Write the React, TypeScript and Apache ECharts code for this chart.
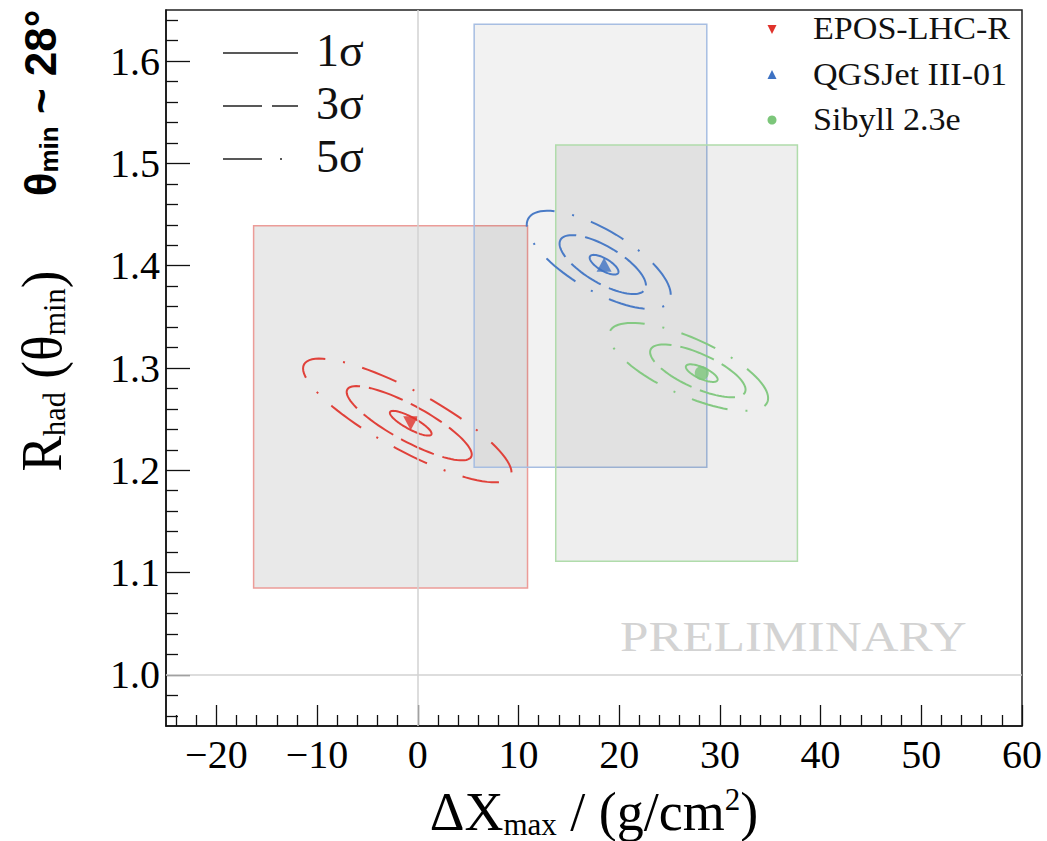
import React, { useEffect, useRef } from "react";
import * as echarts from "echarts";

// ---- data ----
const models = ["EPOS-LHC-R", "QGSJet III-01", "Sibyll 2.3e"];
const markerSymbols = ["triangle", "triangle", "circle"];
const markerRotations = [180, 0, 0];
const markerColors = ["#e0322b", "#3d72c3", "#7cc67a"];
const contourColors = ["#e0413a", "#4a7bc6", "#84c982"];
const boxBorderColors = ["#ec9c98", "#a7bee2", "#b0dcab"];
const boxFillColors = ["rgba(0,0,0,0.085)", "rgba(0,0,0,0.05)", "rgba(0,0,0,0.068)"];

// best-fit points
const centerX = [-0.7, 18.5, 28.2];
const centerY = [1.246, 1.401, 1.295];

// contour centres for the 1σ, 3σ and 5σ levels (contours are slightly asymmetric)
const contourCenterX = [
  [-0.7, -0.85, -1.04],
  [18.5, 18.37, 17.97],
  [28.2, 27.81, 26.89],
];
const contourCenterY = [
  [1.246, 1.246, 1.2487],
  [1.401, 1.4011, 1.4057],
  [1.295, 1.2972, 1.3011],
];
// 1-sigma widths and correlation of the fit contours
const sigmaX = [2.07, 1.43, 1.58];
const sigmaY = [0.0121, 0.0096, 0.0086];
const rho = [-0.84, -0.71, -0.71];

// allowed ranges (boxes)
const boxXMin = [-16.3, 5.6, 13.7];
const boxXMax = [10.9, 28.7, 37.7];
const boxYMin = [1.085, 1.203, 1.111];
const boxYMax = [1.439, 1.636, 1.518];

const sigmaLevels = [1, 3, 5];
const sigmaLabels = ["1\u03c3", "3\u03c3", "5\u03c3"];
const sigmaDashes: number[][] = [[], [36, 9], [37, 18, 2, 18]];
const legendDashes: number[][] = [[], [39, 10], [39, 18, 2, 40]];

const xMajorTicks = [-20, -10, 0, 10, 20, 30, 40, 50, 60];
const yMajorTicks = [1.0, 1.1, 1.2, 1.3, 1.4, 1.5, 1.6];
const xMin = -25, xMax = 60, yMin = 0.95, yMax = 1.65;

const xMinorTicks: number[] = [];
for (let v = -24; v <= 60; v += 2) if (v % 10 !== 0) xMinorTicks.push(v);
const yMinorTicks: number[] = [];
for (let k = 48; k <= 82; k++) if (k % 5 !== 0) yMinorTicks.push(+(k * 0.02).toFixed(2));

const SERIF = "'Liberation Serif', 'Times New Roman', serif";
const SANS = "'Liberation Sans', Arial, sans-serif";

function ellipseRender(params: any, api: any) {
  const cx = api.value(0), cy = api.value(1), sx = api.value(2), sy = api.value(3), r = api.value(4), n = api.value(5);
  const mi = api.value(6), li = api.value(7);
  const pts: number[][] = [];
  const N = 90;
  const s = Math.sqrt(1 - r * r);
  for (let k = 0; k < N; k++) {
    const t = (2 * Math.PI * k) / N;
    const dx = n * sx * Math.cos(t);
    const dy = n * sy * (r * Math.cos(t) + s * Math.sin(t));
    pts.push(api.coord([cx + dx, cy + dy]));
  }
  return {
    type: "polygon",
    shape: { points: pts },
    style: {
      fill: "none",
      stroke: contourColors[mi],
      lineWidth: 2,
      lineDash: sigmaDashes[li].length ? sigmaDashes[li] : null,
    },
  };
}

function boxRender(params: any, api: any) {
  const i = params.dataIndex;
  const p1 = api.coord([api.value(0), api.value(3)]);
  const p2 = api.coord([api.value(1), api.value(2)]);
  return {
    type: "rect",
    shape: { x: p1[0], y: p1[1], width: p2[0] - p1[0], height: p2[1] - p1[1] },
    style: { fill: boxFillColors[i], stroke: boxBorderColors[i], lineWidth: 1.5 },
  };
}

export default function App() {
  const ref = useRef<HTMLDivElement>(null);
  useEffect(() => {
    if (!ref.current) return;
    const chart = echarts.init(ref.current, undefined, { renderer: "svg" });

    const boxData = models.map((_, i) => [boxXMin[i], boxXMax[i], boxYMin[i], boxYMax[i]]);

    const ellipseSeries = models.map((name, i) => ({
      type: "custom",
      name: name + " contours",
      xAxisIndex: 0,
      yAxisIndex: 0,
      renderItem: ellipseRender,
      encode: { x: 0, y: 1 },
      data: sigmaLevels.map((n, li) => [contourCenterX[i][li], contourCenterY[i][li], sigmaX[i], sigmaY[i], rho[i], n, i, li]),
      silent: true,
      z: 3,
    }));

    const scatterSeries = models.map((name, i) => ({
      type: "scatter",
      name,
      xAxisIndex: 0,
      yAxisIndex: 0,
      symbol: markerSymbols[i],
      symbolRotate: markerRotations[i],
      symbolSize: i === 2 ? 14 : [15, 14],
      itemStyle: { color: markerColors[i] },
      data: [[centerX[i], centerY[i]]],
      z: 4,
    }));

    const legendGraphics: any[] = [];
    // sigma legend (top-left)
    sigmaLabels.forEach((lab, li) => {
      const y = [53, 106, 159][li];
      legendGraphics.push({
        type: "line",
        shape: { x1: 223, y1: y, x2: 298, y2: y },
        style: { stroke: "#222", lineWidth: 1.4, lineDash: legendDashes[li].length ? legendDashes[li] : null },
        silent: true,
      });
      legendGraphics.push({
        type: "text",
        x: 316,
        y: y - 3,
        style: { text: lab, fontSize: 46, fontFamily: SERIF, fill: "#111", align: "left", verticalAlign: "middle", textAlign: "left", textVerticalAlign: "middle" },
        silent: true,
      });
    });
    // model legend (top-right)
    const legY = [29, 75, 120];
    models.forEach((name, i) => {
      if (i === 2) {
        legendGraphics.push({ type: "circle", shape: { cx: 772, cy: legY[i], r: 4.5 }, style: { fill: markerColors[i] }, silent: true });
      } else if (i === 0) {
        legendGraphics.push({ type: "polygon", shape: { points: [[767.5, legY[i] - 4], [776.5, legY[i] - 4], [772, legY[i] + 5]] }, style: { fill: markerColors[i] }, silent: true });
      } else {
        legendGraphics.push({ type: "polygon", shape: { points: [[767.5, legY[i] + 4], [776.5, legY[i] + 4], [772, legY[i] - 5]] }, style: { fill: markerColors[i] }, silent: true });
      }
      legendGraphics.push({
        type: "text",
        x: 813,
        y: legY[i],
        scaleX: 1.1,
        style: { text: name, fontSize: 31, fontFamily: SERIF, fill: "#111", align: "left", verticalAlign: "middle", textAlign: "left", textVerticalAlign: "middle" },
        silent: true,
      });
    });

    const option: any = {
      animation: false,
      backgroundColor: "#ffffff",
      grid: { left: 166, right: 25, top: 10, bottom: 115, show: true, borderColor: "#222", borderWidth: 1.5, backgroundColor: "transparent" },
      xAxis: [
        {
          type: "value", min: xMin, max: xMax, position: "bottom",
          splitLine: { show: false },
          axisLine: { show: true, onZero: false, lineStyle: { color: "#111", width: 1.5 } },
          axisTick: { show: true, inside: true, length: 21, customValues: xMajorTicks, lineStyle: { color: "#111", width: 1.3 } },
          axisLabel: {
            customValues: xMajorTicks, fontFamily: SERIF, fontSize: 40, color: "#000", margin: 8,
            formatter: (v: number) => (v < 0 ? "\u2212" + Math.abs(v) : String(v)),
          },
        },
        {
          type: "value", min: xMin, max: xMax, position: "bottom",
          splitLine: { show: false },
          axisLine: { show: false, onZero: false },
          axisTick: { show: true, inside: true, length: 11, customValues: xMinorTicks, lineStyle: { color: "#111", width: 1.3 } },
          axisLabel: { show: false },
        },
      ],
      yAxis: [
        {
          type: "value", min: yMin, max: yMax, position: "left",
          splitLine: { show: false },
          axisLine: { show: true, onZero: false, lineStyle: { color: "#111", width: 1.5 } },
          axisTick: { show: true, inside: true, length: 24, customValues: yMajorTicks, lineStyle: { color: "#111", width: 1.3 } },
          axisLabel: {
            customValues: yMajorTicks, fontFamily: SERIF, fontSize: 40, color: "#000", margin: 6,
            formatter: (v: number) => v.toFixed(1),
          },
        },
        {
          type: "value", min: yMin, max: yMax, position: "left",
          splitLine: { show: false },
          axisLine: { show: false, onZero: false },
          axisTick: { show: true, inside: true, length: 12, customValues: yMinorTicks, lineStyle: { color: "#111", width: 1.3 } },
          axisLabel: { show: false },
        },
      ],
      series: [
        {
          type: "custom",
          name: "ranges",
          xAxisIndex: 0,
          yAxisIndex: 0,
          renderItem: boxRender,
          encode: { x: [0, 1], y: [2, 3] },
          data: boxData,
          silent: true,
          z: 1,
          markLine: {
            silent: true,
            symbol: "none",
            label: { show: false },
            lineStyle: { color: "#d2d2d2", width: 1.5, type: "solid" },
            data: [{ xAxis: 0 }, { yAxis: 1.0 }],
          },
        },
        ...ellipseSeries,
        ...scatterSeries,
      ],
      graphic: [
        ...legendGraphics,
        {
          type: "text", x: 620, y: 636, scaleX: 1.19,
          style: { text: "PRELIMINARY", fontSize: 43, fontFamily: SERIF, fill: "#d3d3d3", align: "left", verticalAlign: "middle", textAlign: "left", textVerticalAlign: "middle" },
          silent: true,
        },
        {
          type: "text", x: 594, y: 812,
          style: {
            text: "{m|\u0394X}{s|max}{m| / (g/cm}{p|2}{m|)}",
            align: "center", verticalAlign: "middle", textAlign: "center", textVerticalAlign: "middle",
            fill: "#000",
            rich: {
              m: { fontSize: 54, lineHeight: 56, fontFamily: SERIF, fill: "#000", color: "#000" },
              s: { fontSize: 31, lineHeight: 20, fontFamily: SERIF, verticalAlign: "bottom", fill: "#000", color: "#000" },
              p: { fontSize: 31, lineHeight: 30, fontFamily: SERIF, verticalAlign: "top", fill: "#000", color: "#000" },
            },
          },
          silent: true,
        },
        {
          type: "text", x: 42, y: 371, rotation: Math.PI / 2, scaleX: 0.95,
          style: {
            text: "{m|R}{s|had}{m| (\u03b8}{s|min}{m|)}",
            align: "center", verticalAlign: "middle", textAlign: "center", textVerticalAlign: "middle",
            fill: "#000",
            rich: {
              m: { fontSize: 56, lineHeight: 56, fontFamily: SERIF, fill: "#000", color: "#000" },
              s: { fontSize: 32, lineHeight: 20, fontFamily: SERIF, verticalAlign: "bottom", fill: "#000", color: "#000" },
            },
          },
          silent: true,
        },
        {
          type: "text", x: 40, y: 103, rotation: Math.PI / 2,
          style: {
            text: "{b|\u03b8}{s|min}{b| ~ 28\u00b0}",
            align: "center", verticalAlign: "middle", textAlign: "center", textVerticalAlign: "middle",
            fill: "#000",
            rich: {
              b: { fontSize: 44, lineHeight: 44, fontFamily: SANS, fontWeight: "bold", fill: "#000", color: "#000" },
              s: { fontSize: 26, lineHeight: 16, fontFamily: SANS, fontWeight: "bold", verticalAlign: "bottom", fill: "#000", color: "#000" },
            },
          },
          silent: true,
        },
      ],
    };
    chart.setOption(option);
    return () => chart.dispose();
  }, []);
  return <div ref={ref} style={{ position: "fixed", left: 0, top: 0, width: 1047, height: 841, background: "#fff" }} />;
}
